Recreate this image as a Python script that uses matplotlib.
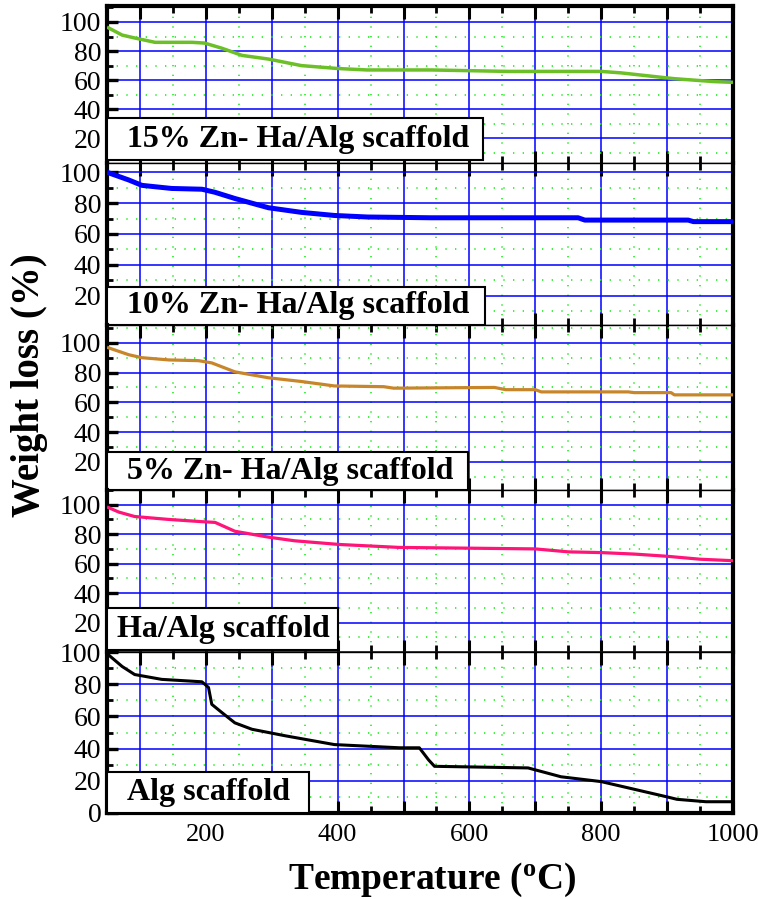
import matplotlib
matplotlib.use("Agg")
import matplotlib.pyplot as plt
from matplotlib.patches import Rectangle
from matplotlib.ticker import MultipleLocator, FuncFormatter

plt.rcParams['font.family'] = ['Liberation Serif', 'DejaVu Serif']
plt.rcParams['mathtext.fontset'] = 'custom'
plt.rcParams['mathtext.rm'] = 'Liberation Serif:bold'

## data (temperature in C, weight in %)
t_15 = [50, 73, 92, 123, 179, 198, 224, 255, 295, 345, 400, 445, 542, 659, 800, 830, 880, 911, 971, 1000]
w_15 = [96.5, 91, 89, 86, 86, 85.5, 82, 77, 74.5, 70, 68, 67, 67, 66, 66, 65, 62.5, 61, 59, 58.5]

t_10 = [50, 83, 103, 148, 194, 214, 244, 295, 345, 395, 445, 542, 765, 775, 932, 940, 1000]
w_10 = [100, 95, 91.5, 89.5, 89, 87, 83, 77, 74, 72, 71, 70.5, 70.5, 69, 69, 68, 68]

t_5 = [50, 83, 103, 144, 189, 209, 244, 295, 345, 395, 470, 485, 638, 655, 700, 709, 841, 850, 906, 911, 1000]
w_5 = [97, 92, 90, 88.5, 88, 86.5, 80.5, 76.5, 74, 71, 70.5, 69.5, 70, 68.5, 68.5, 67, 67, 66.5, 66.5, 65, 65]

t_ha = [50, 68, 92, 144, 194, 214, 244, 295, 335, 403, 494, 600, 700, 750, 800, 850, 900, 950, 1000]
w_ha = [98.5, 95, 92, 90, 88.5, 88, 82, 78, 75.5, 73, 71, 70.5, 70, 68, 67.5, 66.5, 65, 63, 62]

t_alg = [50, 73, 92, 133, 194, 204, 209, 224, 244, 270, 320, 395, 494, 524, 538, 547, 689, 739, 800, 900, 915, 959, 1000]
w_alg = [99, 91, 86, 83, 81.5, 78, 67.5, 62.5, 56, 52, 48, 42.5, 40.5, 40.5, 33, 29, 28, 22.5, 19.5, 10, 8.5, 7, 7]

names = ['15% Zn- Ha/Alg scaffold', '10% Zn- Ha/Alg scaffold', '5% Zn- Ha/Alg scaffold',
         'Ha/Alg scaffold', 'Alg scaffold']
colors = ['#6cbf26', '#0000ff', '#c8862a', '#ff1478', 'black']
widths = [2.5, 3.6, 2.3, 2.3, 2.2]
series = [(t_15, w_15), (t_10, w_10), (t_5, w_5), (t_ha, w_ha), (t_alg, w_alg)]

## layout in pixels of the 758x899 picture
W, H = 758, 899
left, right = 107, 733
bounds = [(6, 163), (163, 325), (325, 490), (490, 652), (652, 813)]
ylims = [(3, 111), (1, 106), (1, 112), (0, 110), (0, 100)]
boxes = [(483, 118, 160), (485, 287, 325), (468, 452, 490), (338, 608, 650), (309, 772, 813)]
text_x = [127, 127, 127, 117, 127]

fig = plt.figure(figsize=(W / 100, H / 100), dpi=100)

for i, (t, w) in enumerate(series):
    top, bot = bounds[i]
    ax = fig.add_axes([left / W, 1 - bot / H, (right - left) / W, (bot - top) / H])
    ax.set_xlim(50, 1000)
    ax.set_ylim(*ylims[i])

    ax.xaxis.set_major_locator(MultipleLocator(100))
    ax.xaxis.set_minor_locator(MultipleLocator(50))
    ax.yaxis.set_major_locator(MultipleLocator(20))
    ax.yaxis.set_minor_locator(MultipleLocator(10))
    ax.grid(True, which='major', color='#0000ff', lw=1.1, zorder=1)
    ax.grid(True, which='minor', color='#22ee22', lw=1.2, linestyle=(0, (0.8, 5)), zorder=1)
    ax.set_axisbelow(True)

    ax.plot(t, w, color=colors[i], lw=widths[i], zorder=3, solid_capstyle='butt')

    # yticks: labels only at 20..100 (and 0 for the bottom panel)
    lo = 0 if i == 4 else 20
    ax.yaxis.set_major_formatter(FuncFormatter(lambda v, p, lo=lo: f"{v:.0f}" if lo <= v <= 100 else ""))
    ax.tick_params(axis='y', which='major', direction='in', length=8, width=2.4, labelsize=20, pad=4)
    ax.tick_params(axis='y', which='minor', direction='in', length=4, width=2)
    ax.tick_params(axis='x', which='major', direction='in', length=9, width=2.2, top=True,
                   labelsize=19, pad=8)
    ax.tick_params(axis='x', which='minor', direction='in', length=5, width=2, top=True)
    if i == 4:
        ax.xaxis.set_major_formatter(FuncFormatter(lambda v, p: f"{v:.0f}" if v % 200 == 0 else ""))
    else:
        ax.tick_params(axis='x', labelbottom=False)

    for s in ['left', 'right']:
        ax.spines[s].set_linewidth(3)
    ax.spines['top'].set_linewidth(3 if i == 0 else 1)
    ax.spines['bottom'].set_linewidth(3 if i == 4 else 1)

    # label box
    bx, by0, by1 = boxes[i]
    rect = Rectangle((0, 1 - (by1 - top) / (bot - top)), (bx - left) / (right - left),
                     (by1 - by0) / (bot - top), transform=ax.transAxes,
                     facecolor='white', edgecolor='black', lw=1.5, zorder=5, clip_on=False)
    ax.add_patch(rect)
    ax.text((text_x[i] - left) / (right - left), 1 - ((by0 + by1) / 2 - top) / (bot - top), names[i],
            transform=ax.transAxes, ha='left', va='center', fontsize=23,
            fontweight='bold', zorder=6)

fig.text(432 / W, 1 - 880 / H, 'Temperature ($\\mathrm{^{o}}$C)', ha='center', va='center',
         fontsize=27, fontweight='bold')
fig.text(30 / W, 1 - 385 / H, 'Weight loss (%)', ha='center', va='center',
         rotation=90, fontsize=28, fontweight='bold')

fig.savefig('out.png', dpi=100)
